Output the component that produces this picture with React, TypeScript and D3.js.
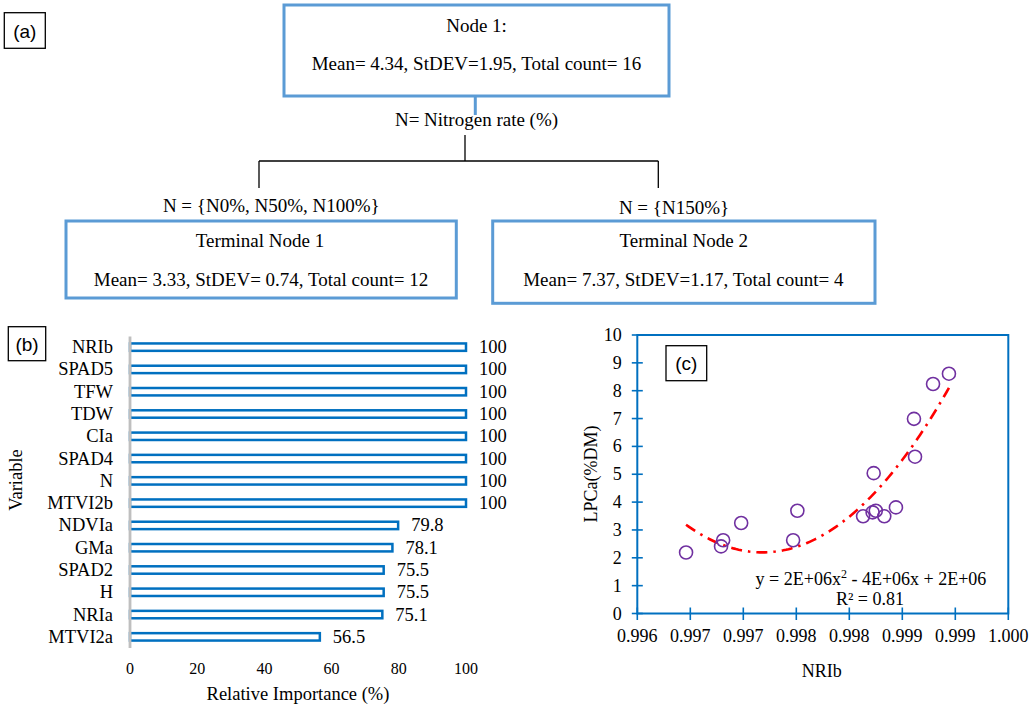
import React from 'react';
import * as d3 from 'd3';

// ---------- DATA ----------
const variables = ['NRIb', 'SPAD5', 'TFW', 'TDW', 'CIa', 'SPAD4', 'N', 'MTVI2b', 'NDVIa', 'GMa', 'SPAD2', 'H', 'NRIa', 'MTVI2a'];
const importance = [100, 100, 100, 100, 100, 100, 100, 100, 79.8, 78.1, 75.5, 75.5, 75.1, 56.5];
const importanceTicks = [0, 20, 40, 60, 80, 100];

const nribValues = [0.99646, 0.99679, 0.99681, 0.99698, 0.99747, 0.99751, 0.99813, 0.99822, 0.99825, 0.99823, 0.99833, 0.99844, 0.99861, 0.99862, 0.99879, 0.99894];
const lpcaValues = [2.19, 2.41, 2.63, 3.25, 2.63, 3.69, 3.49, 3.63, 3.69, 5.04, 3.49, 3.81, 6.99, 5.63, 8.24, 8.61];
const nribTicks = [0.996, 0.9965, 0.997, 0.9975, 0.998, 0.9985, 0.999, 0.9995];
const nribTickLabels = ['0.996', '0.997', '0.997', '0.998', '0.998', '0.999', '0.999', '1.000'];
const lpcaTicks = [0, 1, 2, 3, 4, 5, 6, 7, 8, 9, 10];

const rootNodeLines = ['Node 1:', 'Mean= 4.34, StDEV=1.95, Total count= 16'];
const splitLabel = 'N= Nitrogen rate (%)';
const leftBranchLabel = 'N = {N0%, N50%, N100%}';
const rightBranchLabel = 'N = {N150%}';
const terminal1Lines = ['Terminal Node 1', 'Mean= 3.33, StDEV= 0.74, Total count= 12'];
const terminal2Lines = ['Terminal Node 2', 'Mean= 7.37, StDEV=1.17, Total count= 4'];

const SERIF = '"Liberation Serif", "Times New Roman", serif';
const SANS = '"Liberation Sans", Arial, sans-serif';
const NODE_BLUE = '#5B9BD5';
const BAR_BLUE = '#0070C0';

// least squares quadratic fit (Excel-style trendline)
function quadFit(xs: number[], ys: number[]) {
  const m = d3.mean(xs) as number;
  const us = xs.map((x) => (x - m) * 1000);
  let s0 = 0, s1 = 0, s2 = 0, s3 = 0, s4 = 0, t0 = 0, t1 = 0, t2 = 0;
  us.forEach((u, i) => {
    const y = ys[i];
    s0 += 1; s1 += u; s2 += u * u; s3 += u * u * u; s4 += u * u * u * u;
    t0 += y; t1 += u * y; t2 += u * u * y;
  });
  const A = [[s4, s3, s2, t2], [s3, s2, s1, t1], [s2, s1, s0, t0]];
  for (let i = 0; i < 3; i++) {
    for (let k = i + 1; k < 3; k++) {
      const f = A[k][i] / A[i][i];
      for (let j = i; j < 4; j++) A[k][j] -= f * A[i][j];
    }
  }
  const sol = [0, 0, 0];
  for (let i = 2; i >= 0; i--) {
    let s = A[i][3];
    for (let j = i + 1; j < 3; j++) s -= A[i][j] * sol[j];
    sol[i] = s / A[i][i];
  }
  const [a, b, c] = sol;
  return (x: number) => {
    const u = (x - m) * 1000;
    return a * u * u + b * u + c;
  };
}

function PanelLabel({ x, y, w, h, text }: { x: number; y: number; w: number; h: number; text: string }) {
  return (
    <g>
      <rect x={x} y={y} width={w} height={h} fill="white" stroke="#000" strokeWidth={1.3} />
      <text x={x + w / 2} y={y + h / 2 + 7} textAnchor="middle" fontFamily={SANS} fontSize={19}>{text}</text>
    </g>
  );
}

function TreePanel() {
  return (
    <g fontFamily={SERIF} fontSize={19} fill="#000">
      <rect x={284} y={5} width={385} height={91} fill="white" stroke={NODE_BLUE} strokeWidth={3} />
      <text x={476.5} y={32} textAnchor="middle">{rootNodeLines[0]}</text>
      <text x={476.5} y={70} textAnchor="middle">{rootNodeLines[1]}</text>
      <line x1={475.3} y1={96} x2={475.3} y2={115} stroke={NODE_BLUE} strokeWidth={3} />
      <text x={476.5} y={126} textAnchor="middle">{splitLabel}</text>
      <g stroke="#000" strokeWidth={1.3} fill="none">
        <line x1={465} y1={135} x2={465} y2={161} />
        <line x1={259} y1={161} x2={658.3} y2={161} />
        <line x1={259} y1={161} x2={259} y2={188} />
        <line x1={658.3} y1={161} x2={658.3} y2={188} />
      </g>
      <text x={271.3} y={212} textAnchor="middle">{leftBranchLabel}</text>
      <text x={674} y={214} textAnchor="middle">{rightBranchLabel}</text>
      <rect x={66} y={221} width={390.3} height={77} fill="white" stroke={NODE_BLUE} strokeWidth={3} />
      <text x={260} y={247} textAnchor="middle">{terminal1Lines[0]}</text>
      <text x={261} y={286} textAnchor="middle">{terminal1Lines[1]}</text>
      <rect x={492.7} y={221} width={382.3} height={82.3} fill="white" stroke={NODE_BLUE} strokeWidth={3} />
      <text x={683.8} y={247} textAnchor="middle">{terminal2Lines[0]}</text>
      <text x={683.3} y={286} textAnchor="middle">{terminal2Lines[1]}</text>
    </g>
  );
}

function BarPanel() {
  const x = d3.scaleLinear().domain([0, 100]).range([130, 466]);
  const y = d3.scaleBand<string>().domain(variables).range([336, 648]).padding(0);
  const barH = 7.4;
  return (
    <g fontFamily={SERIF} fill="#000">
      {variables.map((v, i) => {
        const cy = (y(v) as number) + y.bandwidth() / 2;
        return (
          <g key={v}>
            <rect x={x(0)} y={cy - barH / 2} width={x(importance[i]) - x(0)} height={barH} fill="white" stroke={BAR_BLUE} strokeWidth={2.5} />
            <text x={113} y={cy + 6} textAnchor="end" fontSize={18.5}>{v}</text>
            <text x={x(importance[i]) + 13} y={cy + 6} fontSize={18.5}>{importance[i]}</text>
          </g>
        );
      })}
      <line x1={x(0)} y1={336.5} x2={x(0)} y2={648} stroke="#BFBFBF" strokeWidth={2.8} />
      {importanceTicks.map((t) => (
        <text key={t} x={x(t)} y={674} textAnchor="middle" fontSize={16}>{t}</text>
      ))}
      <text x={(x(0) + x(100)) / 2} y={700} textAnchor="middle" fontSize={18.5}>Relative Importance (%)</text>
      <text transform={`translate(22,480) rotate(-90)`} textAnchor="middle" fontSize={18.5}>Variable</text>
    </g>
  );
}

function ScatterPanel() {
  const x = d3.scaleLinear().domain([0.996, 0.9995]).range([637.3, 1008.3]);
  const y = d3.scaleLinear().domain([0, 10]).range([613.5, 335]);
  const fit = quadFit(nribValues, lpcaValues);
  const x0 = d3.min(nribValues) as number;
  const x1 = d3.max(nribValues) as number;
  const samples = d3.range(0, 101).map((i) => x0 + ((x1 - x0) * i) / 100);
  const line = d3.line<number>().x((d) => x(d)).y((d) => y(fit(d)));
  return (
    <g fontFamily={SERIF} fill="#000">
      <rect x={x.range()[0]} y={y.range()[1]} width={x.range()[1] - x.range()[0]} height={y.range()[0] - y.range()[1]} fill="none" stroke={BAR_BLUE} strokeWidth={2} />
      {lpcaTicks.map((t) => (
        <g key={t}>
          <line x1={x.range()[0] - 5.5} x2={x.range()[0] + 5.5} y1={y(t)} y2={y(t)} stroke={BAR_BLUE} strokeWidth={1.6} />
          <text x={621.7} y={y(t) + 6} textAnchor="end" fontSize={18}>{t}</text>
        </g>
      ))}
      {nribTicks.map((t, i) => (
        <g key={i}>
          <line x1={x(t)} x2={x(t)} y1={y.range()[0] - 6} y2={y.range()[0] + 6.5} stroke={BAR_BLUE} strokeWidth={1.6} />
          <text x={x(t)} y={642} textAnchor="middle" fontSize={18}>{nribTickLabels[i]}</text>
        </g>
      ))}
      <path d={line(samples) as string} fill="none" stroke="#FF0000" strokeWidth={2.6} strokeDasharray="11 6 2.5 6" />
      {nribValues.map((v, i) => (
        <circle key={i} cx={x(v)} cy={y(lpcaValues[i])} r={6.5} fill="none" stroke="#7030A0" strokeWidth={1.6} />
      ))}
      <text x={871} y={585} textAnchor="middle" fontSize={18}>
        y = 2E+06x<tspan dy={-7} fontSize={12}>2</tspan><tspan dy={7}> - 4E+06x + 2E+06</tspan>
      </text>
      <text x={870} y={605} textAnchor="middle" fontSize={18}>R² = 0.81</text>
      <text x={821.7} y={677} textAnchor="middle" fontSize={18}>NRIb</text>
      <text transform={`translate(597,474) rotate(-90)`} textAnchor="middle" fontSize={18}>LPCa(%DM)</text>
    </g>
  );
}

export default function App() {
  return (
    <svg width={1036} height={707} style={{ position: 'absolute', left: 0, top: 0, background: 'white' }}>
      <rect width={1036} height={707} fill="white" />
      <TreePanel />
      <BarPanel />
      <ScatterPanel />
      <PanelLabel x={4.3} y={12.7} w={41} h={35.6} text="(a)" />
      <PanelLabel x={8.3} y={326.7} w={37.4} h={34} text="(b)" />
      <PanelLabel x={666} y={345.7} w={40.7} h={35} text="(c)" />
    </svg>
  );
}
